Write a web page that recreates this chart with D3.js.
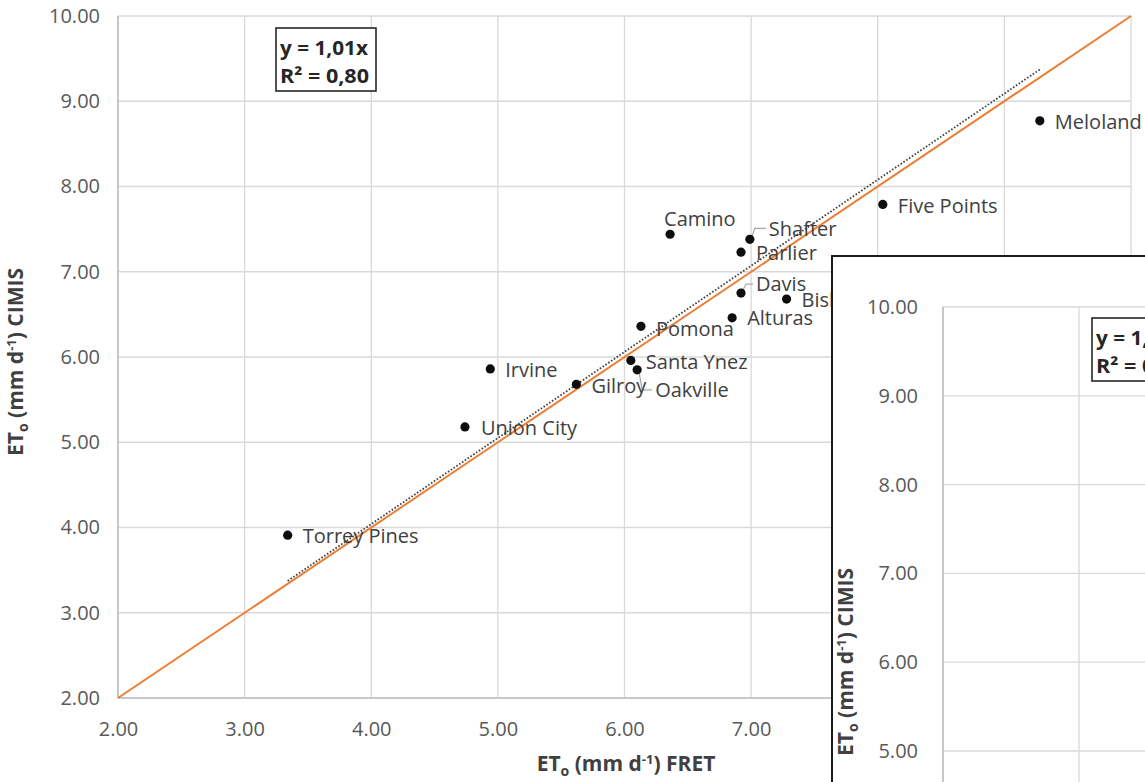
<!DOCTYPE html>
<html>
<head>
<meta charset="utf-8">
<script src="https://cdn.jsdelivr.net/npm/d3@7"></script>
<style>
  body { margin: 0; background: #fff; overflow: hidden; }
  text { font-family: "Open Sans", sans-serif; }
</style>
</head>
<body>
<div id="chart"></div>
<script>
// station names and daily ETo values (mm/d)
var stations = ["Torrey Pines", "Union City", "Irvine", "Gilroy", "Santa Ynez", "Oakville", "Pomona",
                "Alturas", "Davis", "Bishop", "Parlier", "Shafter", "Camino", "Five Points", "Meloland"];
var fretEto  = [3.34, 4.74, 4.94, 5.62, 6.05, 6.10, 6.13, 6.85, 6.92, 7.28, 6.92, 6.99, 6.36, 8.04, 9.28];
var cimisEto = [3.91, 5.18, 5.86, 5.68, 5.96, 5.85, 6.36, 6.46, 6.75, 6.68, 7.23, 7.38, 7.44, 7.79, 8.77];
var xTicks = [2, 3, 4, 5, 6, 7, 8, 9, 10];
var yTicks = [2, 3, 4, 5, 6, 7, 8, 9, 10];
var slope = 1.01, rSquared = 0.80;

var width = 1145, height = 782;
var fmt = d3.format(".2f");
var comma = function(v) { return fmt(v).replace(".", ","); };

// label placement (pixel offsets from the dot), third item = small connector line
var labelPos = {
  "Torrey Pines": [15, 1], "Union City": [16, 1], "Irvine": [15, 1], "Gilroy": [15, 2],
  "Santa Ynez": [15, 1], "Oakville": [18, 20, true], "Pomona": [15, 2], "Alturas": [15, 0],
  "Davis": [15, -9, true], "Bishop": [15, 1], "Parlier": [15, 1], "Shafter": [19, -11, true],
  "Camino": [-6, -15], "Five Points": [15, 1], "Meloland": [15, 1]
};

var svg = d3.select("#chart").append("svg")
    .attr("width", width)
    .attr("height", height);

var x = d3.scaleLinear().domain([2, 10]).range([118, 1131]);
var y = d3.scaleLinear().domain([2, 10]).range([698, 16]);

function drawFrame(g, xs, ys, yPad, xPad) {
  // grid
  g.append("g").selectAll("line")
      .data(xTicks)
    .enter().append("line")
      .attr("x1", function(d) { return xs(d); }).attr("x2", function(d) { return xs(d); })
      .attr("y1", ys(10)).attr("y2", ys(2))
      .attr("stroke", "#d9d9d9").attr("stroke-width", 1.3);
  g.append("g").selectAll("line")
      .data(yTicks)
    .enter().append("line")
      .attr("x1", xs(2)).attr("x2", xs(10))
      .attr("y1", function(d) { return ys(d); }).attr("y2", function(d) { return ys(d); })
      .attr("stroke", "#d9d9d9").attr("stroke-width", 1.3);
  // axis lines
  g.append("line").attr("x1", xs(2)).attr("x2", xs(2)).attr("y1", ys(10)).attr("y2", ys(2))
      .attr("stroke", "#bfbfbf").attr("stroke-width", 1.6);
  g.append("line").attr("x1", xs(2)).attr("x2", xs(10)).attr("y1", ys(2)).attr("y2", ys(2))
      .attr("stroke", "#bfbfbf").attr("stroke-width", 1.6);

  var yAxis = d3.axisLeft(ys).tickValues(yTicks).tickFormat(fmt).tickSize(0).tickPadding(yPad);
  g.append("g").attr("transform", "translate(" + xs(2) + ",0)").call(yAxis)
      .call(function(a) { a.select(".domain").remove(); })
      .selectAll("text").attr("font-size", 20).attr("fill", "#595959")
      .attr("font-family", "'Open Sans', sans-serif");

  var xAxis = d3.axisBottom(xs).tickValues(xTicks).tickFormat(fmt).tickSize(0).tickPadding(xPad);
  g.append("g").attr("transform", "translate(0," + ys(2) + ")").call(xAxis)
      .call(function(a) { a.select(".domain").remove(); })
      .selectAll("text").attr("font-size", 20).attr("fill", "#595959")
      .attr("font-family", "'Open Sans', sans-serif");
}

function axisTitle(g, tx, ty, rot, tail) {
  var t = g.append("text")
      .attr("transform", "translate(" + tx + "," + ty + ") rotate(" + rot + ")")
      .attr("text-anchor", "middle")
      .attr("font-size", 21).attr("font-weight", "bold").attr("fill", "#404040");
  t.append("tspan").text("ET");
  t.append("tspan").attr("dy", 5).attr("font-size", 14).text("o");
  t.append("tspan").attr("dy", -5).text(" (mm d");
  t.append("tspan").attr("dy", -7).attr("font-size", 13).text("-1");
  t.append("tspan").attr("dy", 7).text(") " + tail);
}

function eqBox(g, bx, by) {
  g.append("rect").attr("x", bx).attr("y", by).attr("width", 100).attr("height", 63)
      .attr("fill", "#fff").attr("stroke", "#262626").attr("stroke-width", 1.6);
  g.append("text").attr("x", bx + 4).attr("y", by + 27)
      .attr("font-size", 20).attr("font-weight", "bold").attr("fill", "#262626")
      .attr("textLength", 88).attr("lengthAdjust", "spacingAndGlyphs")
      .text("y = " + comma(slope) + "x");
  g.append("text").attr("x", bx + 4).attr("y", by + 55)
      .attr("font-size", 20).attr("font-weight", "bold").attr("fill", "#262626")
      .attr("textLength", 89).attr("lengthAdjust", "spacingAndGlyphs")
      .text("R² = " + comma(rSquared));
}

var main = svg.append("g");
drawFrame(main, x, y, 18, 24);

// 1:1 line
main.append("line")
    .attr("x1", x(2)).attr("y1", y(2)).attr("x2", x(10)).attr("y2", y(10))
    .attr("stroke", "#ED7D31").attr("stroke-width", 2);

// trend line y = slope * x over the data range
var xMin = d3.min(fretEto), xMax = d3.max(fretEto);
main.append("line")
    .attr("x1", x(xMin)).attr("y1", y(slope * xMin))
    .attr("x2", x(xMax)).attr("y2", y(slope * xMax))
    .attr("stroke", "#404040").attr("stroke-width", 1.8).attr("stroke-dasharray", "1.6,1.8");

var pts = stations.map(function(s, i) { return { name: s, fx: fretEto[i], cy: cimisEto[i] }; });

// leader lines
main.selectAll("path.leader")
    .data(pts.filter(function(d) { return labelPos[d.name][2]; }))
  .enter().append("path")
    .attr("fill", "none").attr("stroke", "#a6a6a6").attr("stroke-width", 1.2)
    .attr("d", function(d) {
      var px = x(d.fx), py = y(d.cy), o = labelPos[d.name];
      var ly = py + o[1], lx = px + o[0];
      return "M" + (px + 2) + "," + (py + (o[1] > 0 ? 3 : -3)) + "L" + (px + 5) + "," + ly + "L" + (lx - 3) + "," + ly;
    });

main.selectAll("circle.pt")
    .data(pts)
  .enter().append("circle")
    .attr("cx", function(d) { return x(d.fx); })
    .attr("cy", function(d) { return y(d.cy); })
    .attr("r", 4.6)
    .attr("fill", "#0d0d0d");

main.selectAll("text.lbl")
    .data(pts)
  .enter().append("text")
    .attr("x", function(d) { return x(d.fx) + labelPos[d.name][0]; })
    .attr("y", function(d) { return y(d.cy) + labelPos[d.name][1]; })
    .attr("dy", "0.36em")
    .attr("font-size", 20).attr("fill", "#404040")
    .text(function(d) { return d.name; });

eqBox(main, 276, 28);
axisTitle(main, 626, 771, 0, "FRET");
axisTitle(main, 23, 362, -90, "CIMIS");

// second panel overlapping bottom right
var inset = svg.append("g");
inset.append("rect").attr("x", 832).attr("y", 256).attr("width", 400).attr("height", 600)
    .attr("fill", "#fff").attr("stroke", "#1a1a1a").attr("stroke-width", 2);
var x2 = d3.scaleLinear().domain([2, 10]).range([943, 943 + 8 * 136]);
var y2 = d3.scaleLinear().domain([2, 10]).range([307 + 8 * 88.8, 307]);
drawFrame(inset, x2, y2, 25, 24);
eqBox(inset, 1092, 318);
axisTitle(inset, 853, 662, -90, "CIMIS");
</script>
</body>
</html>
